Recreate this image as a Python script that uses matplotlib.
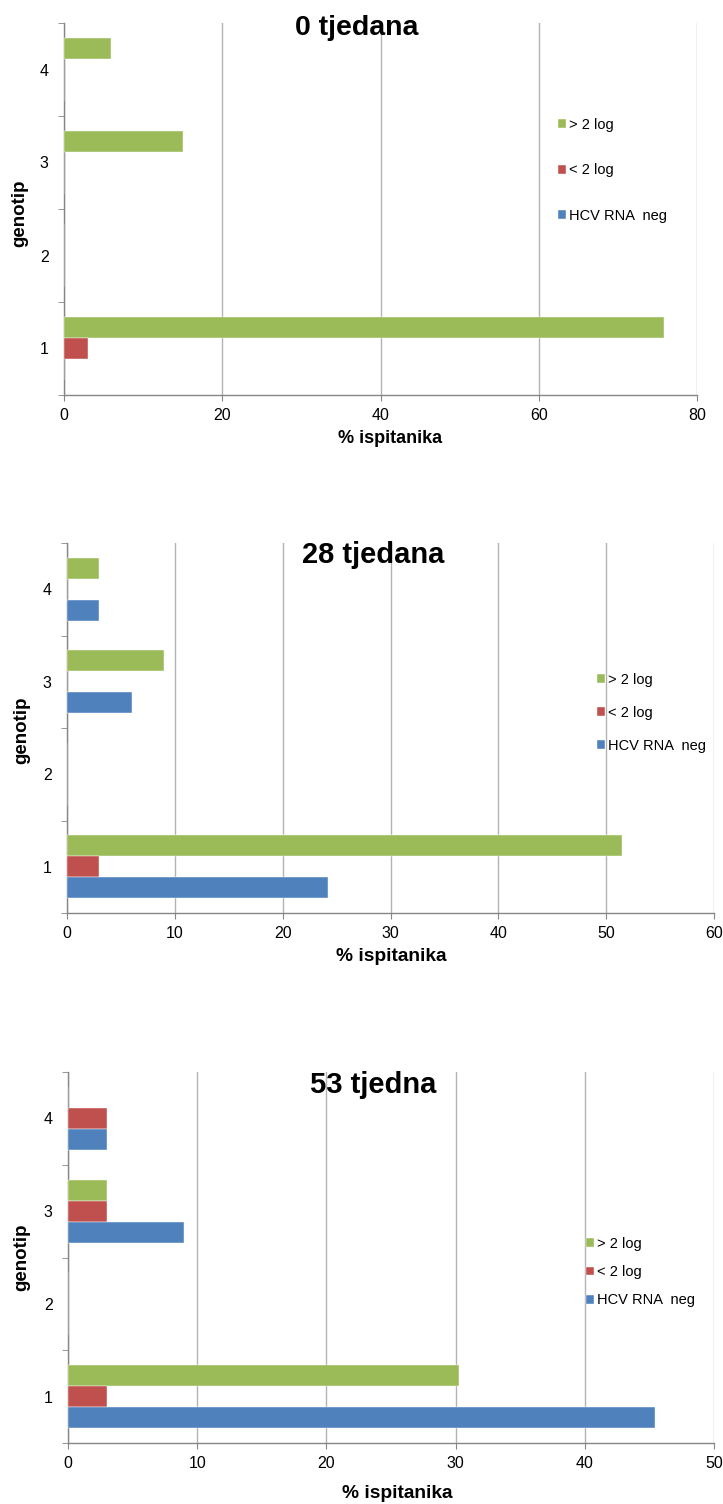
import matplotlib
matplotlib.use("Agg")
import matplotlib.pyplot as plt
import numpy as np

plt.rcParams['font.family'] = ['Liberation Sans', 'DejaVu Sans']

genotypes = [1, 2, 3, 4]
series_labels = ['> 2 log', '< 2 log', 'HCV RNA  neg']
colors = ['#9BBB59', '#C0504D', '#4F81BD']

# week 0
w0_gt2 = [75.8, 0, 15.1, 6.0]
w0_lt2 = [3.0, 0, 0, 0]
w0_neg = [0, 0, 0, 0]
# week 28
w28_gt2 = [51.5, 0, 9.0, 3.0]
w28_lt2 = [3.0, 0, 0, 0]
w28_neg = [24.2, 0, 6.0, 3.0]
# week 53
w53_gt2 = [30.3, 0, 3.0, 0]
w53_lt2 = [3.0, 0, 3.0, 3.0]
w53_neg = [45.4, 0, 9.0, 3.0]

titles = ['0 tjedana', '28 tjedana', '53 tjedna']
xmaxes = [80, 60, 50]
xsteps = [20, 10, 10]

W, H = 723, 1504
fig = plt.figure(figsize=(W / 100, H / 100), dpi=100)

def fbox(l, r, t, b):
    return [l / W, 1 - b / H, (r - l) / W, (b - t) / H]

panels = [
    dict(box=(64, 697, 23, 395), data=(w0_gt2, w0_lt2, w0_neg),
         title_xy=(357, 28), title_size=20.5, ylab_xy=(20, 213), xlab_xy=(390, 438), xlab_size=13,
         leg_xy=(558, 118), leg_space=2.15),
    dict(box=(67, 714, 543, 913), data=(w28_gt2, w28_lt2, w28_neg),
         title_xy=(373, 555), title_size=21, ylab_xy=(22, 730), xlab_xy=(391, 957), xlab_size=13.8,
         leg_xy=(597, 673), leg_space=1.3),
    dict(box=(68, 714, 1072, 1443), data=(w53_gt2, w53_lt2, w53_neg),
         title_xy=(373, 1085), title_size=21, ylab_xy=(22, 1257), xlab_xy=(397, 1493), xlab_size=13.8,
         leg_xy=(586, 1237), leg_space=0.97),
]

bar_h = 0.226
offsets = [bar_h, 0, -bar_h]
y = np.array(genotypes, dtype=float)

for i, p in enumerate(panels):
    ax = fig.add_axes(fbox(*p['box']))
    handles = []
    for vals, off, col, lab in zip(p['data'], offsets, colors, series_labels):
        h = ax.barh(y + off, vals, height=bar_h, color=col, label=lab,
                    edgecolor='white', linewidth=0.3, zorder=3)
        handles.append(h)
    ax.set_xlim(0, xmaxes[i])
    ax.set_ylim(0.5, 4.5)
    ax.set_xticks(np.arange(0, xmaxes[i] + 1, xsteps[i]))
    ax.set_yticks(genotypes)
    ax.set_yticks([0.5, 1.5, 2.5, 3.5, 4.5], minor=True)
    ax.tick_params(axis='y', which='major', length=0, pad=11, labelsize=11.5)
    ax.tick_params(axis='y', which='minor', length=4, color='#868686', direction='out')
    ax.tick_params(axis='x', which='major', length=4, color='#868686', pad=5, labelsize=11.5)
    ax.grid(axis='x', color='#B3B3B3', linewidth=1.0, zorder=0)
    for s in ['top', 'right']:
        ax.spines[s].set_visible(False)
    for s in ['left', 'bottom']:
        ax.spines[s].set_color('#868686')
        ax.spines[s].set_linewidth(1.0)
    ax.set_facecolor('white')

    tx, ty = p['title_xy']
    fig.text(tx / W, 1 - ty / H, titles[i], ha='center', va='center',
             fontsize=p['title_size'], fontweight='bold')
    yx, yy = p['ylab_xy']
    fig.text(yx / W, 1 - yy / H, 'genotip', ha='center', va='center',
             rotation=90, fontsize=13.5, fontweight='bold')
    xx, xy = p['xlab_xy']
    fig.text(xx / W, 1 - xy / H, '% ispitanika', ha='center', va='center',
             fontsize=p['xlab_size'], fontweight='bold')

    lx, ly = p['leg_xy']
    leg = fig.legend(handles=handles, labels=series_labels, loc='upper left',
                     bbox_to_anchor=(lx / W, 1 - ly / H), frameon=False,
                     fontsize=10.5, handlelength=0.55, handleheight=0.55,
                     handletextpad=0.2, borderpad=0, borderaxespad=0,
                     labelspacing=p['leg_space'])

fig.savefig('out.png', dpi=100, facecolor='white')
